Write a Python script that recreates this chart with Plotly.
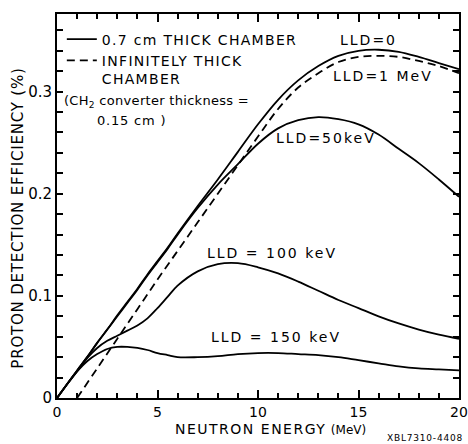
import plotly.graph_objects as go

energy = [0, 0.5, 1, 1.5, 2, 2.5, 3, 3.5, 4, 4.5, 5, 5.5, 6, 7, 8, 9, 10,
          11, 12, 13, 14, 15, 16, 17, 18, 19, 20]
lld_0 = [0, 0.0135, 0.027, 0.040, 0.054, 0.067, 0.081, 0.094, 0.107, 0.121,
         0.134, 0.147, 0.161, 0.188, 0.214, 0.241, 0.268, 0.292, 0.311, 0.325,
         0.335, 0.340, 0.341, 0.339, 0.334, 0.328, 0.322]
lld_50 = [0, 0.0135, 0.027, 0.040, 0.054, 0.067, 0.080, 0.093, 0.106, 0.120,
          0.133, 0.146, 0.160, 0.186, 0.209, 0.229, 0.249, 0.264, 0.272, 0.275,
          0.273, 0.268, 0.258, 0.244, 0.230, 0.214, 0.197]
lld_100 = [0, 0.0135, 0.026, 0.039, 0.049, 0.056, 0.061, 0.066, 0.071, 0.078,
           0.088, 0.099, 0.110, 0.124, 0.131, 0.132, 0.128, 0.122, 0.114, 0.105,
           0.096, 0.088, 0.080, 0.073, 0.067, 0.062, 0.058]
lld_150 = [0, 0.0135, 0.026, 0.036, 0.043, 0.048, 0.050, 0.050, 0.049, 0.047,
           0.044, 0.042, 0.040, 0.040, 0.041, 0.043, 0.044, 0.044, 0.043, 0.042,
           0.040, 0.037, 0.034, 0.031, 0.029, 0.028, 0.027]
energy_inf = [1, 2, 3, 4, 5, 6, 7, 8, 9, 10, 11, 12, 13, 14, 15, 16, 17, 18, 19, 20]
lld_1mev_inf = [0, 0.029, 0.058, 0.087, 0.116, 0.144, 0.172, 0.200, 0.228, 0.256,
                0.283, 0.304, 0.318, 0.329, 0.334, 0.335, 0.334, 0.330, 0.325, 0.318]

x_ticks = [0, 5, 10, 15, 20]
y_ticks = [0, 0.1, 0.2, 0.3]
y_tick_text = ["0", "0.1", "0.2", "0.3"]

FONT = "DejaVu Sans"
LW = 1.8


def spaced(t, ls=1.5):
    return f"<span style='letter-spacing:{ls}px'>{t}</span>"


fig = go.Figure()
fig.add_trace(go.Scatter(x=energy, y=lld_0, mode="lines",
                         name=spaced("0.7 cm THICK CHAMBER", 1.3),
                         line=dict(color="black", width=LW, shape="spline")))
fig.add_trace(go.Scatter(x=energy_inf, y=lld_1mev_inf, mode="lines",
                         name=spaced("INFINITELY THICK", 1.3) + "<br>" + spaced("CHAMBER", 1.3),
                         line=dict(color="black", width=LW, dash="8px,5px", shape="spline")))
for ys in (lld_50, lld_100, lld_150):
    fig.add_trace(go.Scatter(x=energy, y=ys, mode="lines", showlegend=False,
                             line=dict(color="black", width=LW, shape="spline")))

labels = [
    ("LLD=0", 15.5, 0.351),
    ("LLD=1 MeV", 16.2, 0.315),
    ("LLD=50keV", 13.4, 0.255),
    ("LLD = 100 keV", 10.7, 0.142),
    ("LLD = 150 keV", 10.9, 0.060),
]
for t, x, y in labels:
    fig.add_annotation(x=x, y=y, text=spaced(t, 2), showarrow=False,
                       font=dict(family=FONT, size=14, color="black"))

fig.add_annotation(xref="paper", yref="paper", x=0.012, y=0.771, xanchor="left",
                   yanchor="middle",
                   text=spaced("(CH<sub>2</sub> converter thickness =", 0.3), showarrow=False,
                   font=dict(family=FONT, size=13, color="black"))
fig.add_annotation(xref="paper", yref="paper", x=0.094, y=0.722, xanchor="left",
                   yanchor="middle",
                   text=spaced("0.15 cm )", 0.8), showarrow=False,
                   font=dict(family=FONT, size=13, color="black"))
fig.add_annotation(xref="paper", yref="paper", x=1.015, y=-0.104, xanchor="right",
                   yanchor="middle", text=spaced("XBL7310-4408", 0.8), showarrow=False,
                   font=dict(family=FONT, size=9, color="black"))
fig.add_annotation(xref="paper", yref="paper", x=0.53, y=-0.081, xanchor="center",
                   yanchor="middle",
                   text=spaced("NEUTRON ENERGY", 1.5) + " <span style='font-size:12px'>(MeV)</span>",
                   showarrow=False, font=dict(family=FONT, size=14, color="black"))
fig.add_annotation(xref="paper", yref="paper", x=-0.097, y=0.467, xanchor="center",
                   yanchor="middle", textangle=-90,
                   text=spaced("PROTON DETECTION EFFICIENCY (%)", 0.8),
                   showarrow=False, font=dict(family=FONT, size=15, color="black"))

axis_common = dict(showline=True, linecolor="black", linewidth=1.8, mirror="ticks",
                   ticks="inside", tickcolor="black", tickwidth=1.5, showgrid=False,
                   zeroline=False, automargin=False, ticklabeloverflow="allow",
                   tickfont=dict(family=FONT, size=15, color="black"))

fig.update_xaxes(range=[0, 20], tickvals=x_ticks, ticklen=8, ticklabelstandoff=0,
                 minor=dict(dtick=1, ticks="inside", ticklen=5, tickcolor="black", tickwidth=1.5),
                 **axis_common)
fig.update_xaxes(tickfont=dict(family=FONT, size=14, color="black"))
fig.update_yaxes(range=[0, 0.376], tickvals=y_ticks, ticktext=y_tick_text, ticklen=6,
                 minor=dict(dtick=0.02, ticks="inside", ticklen=6, tickcolor="black", tickwidth=1.5),
                 **axis_common)

fig.update_layout(
    width=468, height=444,
    margin=dict(l=57, r=9, t=14, b=46),
    paper_bgcolor="white", plot_bgcolor="white",
    showlegend=True,
    legend=dict(x=0.012, y=0.975, xanchor="left", yanchor="top", bgcolor="rgba(0,0,0,0)",
                font=dict(family=FONT, size=14, color="black"), valign="top",
                tracegroupgap=0, itemwidth=30),
)

fig.write_html("out.html", config={"displayModeBar": False},
               post_script="document.body.style.margin='0';")
